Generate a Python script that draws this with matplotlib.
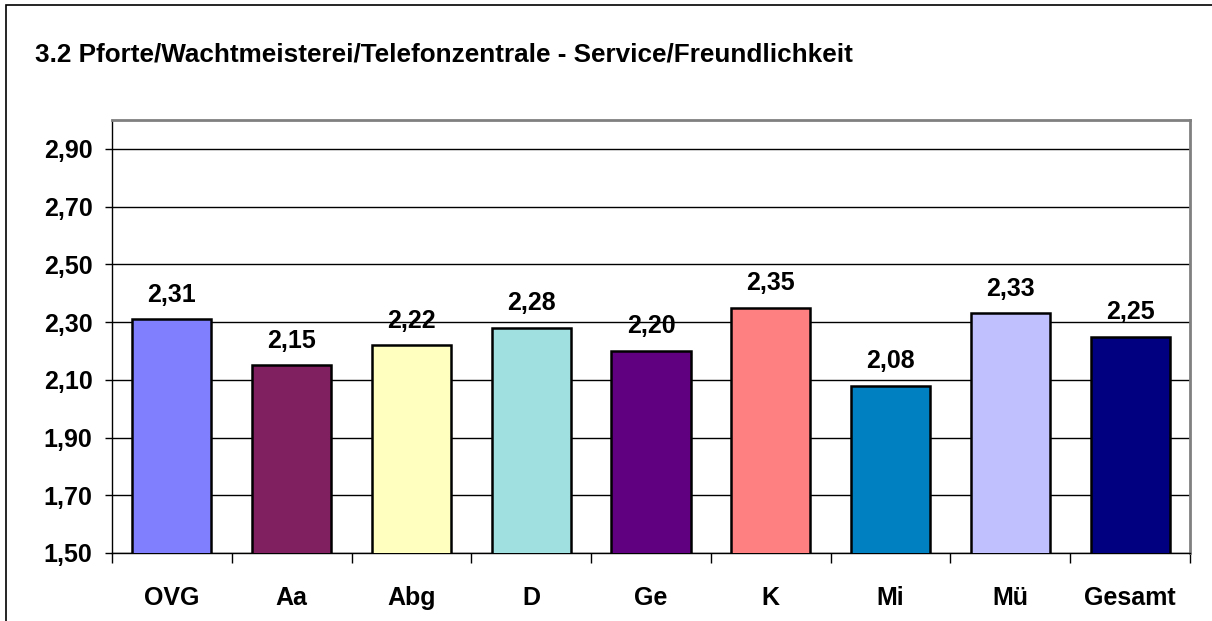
import matplotlib.pyplot as plt
from matplotlib.patches import Rectangle
import numpy as np

kategorien = ["OVG", "Aa", "Abg", "D", "Ge", "K", "Mi", "Mü", "Gesamt"]
werte = [2.31, 2.15, 2.22, 2.28, 2.20, 2.35, 2.08, 2.33, 2.25]
farben = ["#8080FF", "#802060", "#FFFFC0", "#A0E0E0", "#600080",
          "#FF8080", "#0080C0", "#C0C0FF", "#000080"]
yticks = [1.50, 1.70, 1.90, 2.10, 2.30, 2.50, 2.70, 2.90]

plt.rcParams['font.family'] = ['Liberation Sans', 'DejaVu Sans']

fig = plt.figure(figsize=(12.12, 6.21), dpi=100)
# aeusserer Rahmen
fig.patches.append(Rectangle((6 / 1212, -0.1), 1.2, 1 - 5 / 621 + 0.1,
                             transform=fig.transFigure, fill=False,
                             edgecolor="black", linewidth=1.2))

ax = fig.add_axes([112 / 1212, 1 - 553 / 621, (1190 - 112) / 1212, (553 - 120) / 621])

x = np.arange(len(kategorien))
ax.bar(x, werte, width=0.66, color=farben, edgecolor="black", linewidth=1.8,
       zorder=3)
ax.set_ylim(1.5, 3.0)
ax.set_xlim(-0.5, len(kategorien) - 0.5)

for xi, w in zip(x, werte):
    ax.annotate(f"{w:.2f}".replace(".", ","), (xi, w), xytext=(0, 9),
                textcoords="offset points", ha="center", va="bottom",
                fontsize=18, fontweight="bold")

ax.set_yticks(yticks)
ax.set_yticklabels([f"{t:.2f}".replace(".", ",") for t in yticks],
                   fontsize=18, fontweight="bold")
ax.yaxis.grid(True, color="black", linewidth=1.0, zorder=0)
ax.tick_params(axis="y", length=5, width=1, pad=9)

ax.set_xticks(x)
ax.set_xticklabels(kategorien, fontsize=18, fontweight="bold")
ax.tick_params(axis="x", length=0, pad=24)
ax.set_xticks(np.arange(len(kategorien) + 1) - 0.5, minor=True)
ax.tick_params(axis="x", which="minor", length=7, width=1)

for s in ["top", "right"]:
    ax.spines[s].set_color("#808080")
    ax.spines[s].set_linewidth(2)
for s in ["left", "bottom"]:
    ax.spines[s].set_color("black")
    ax.spines[s].set_linewidth(1)

fig.text(35 / 1212, 1 - 55 / 621,
         "3.2 Pforte/Wachtmeisterei/Telefonzentrale - Service/Freundlichkeit",
         fontsize=18.8, fontweight="bold", va="center", ha="left")

fig.savefig("out.png", dpi=100)
